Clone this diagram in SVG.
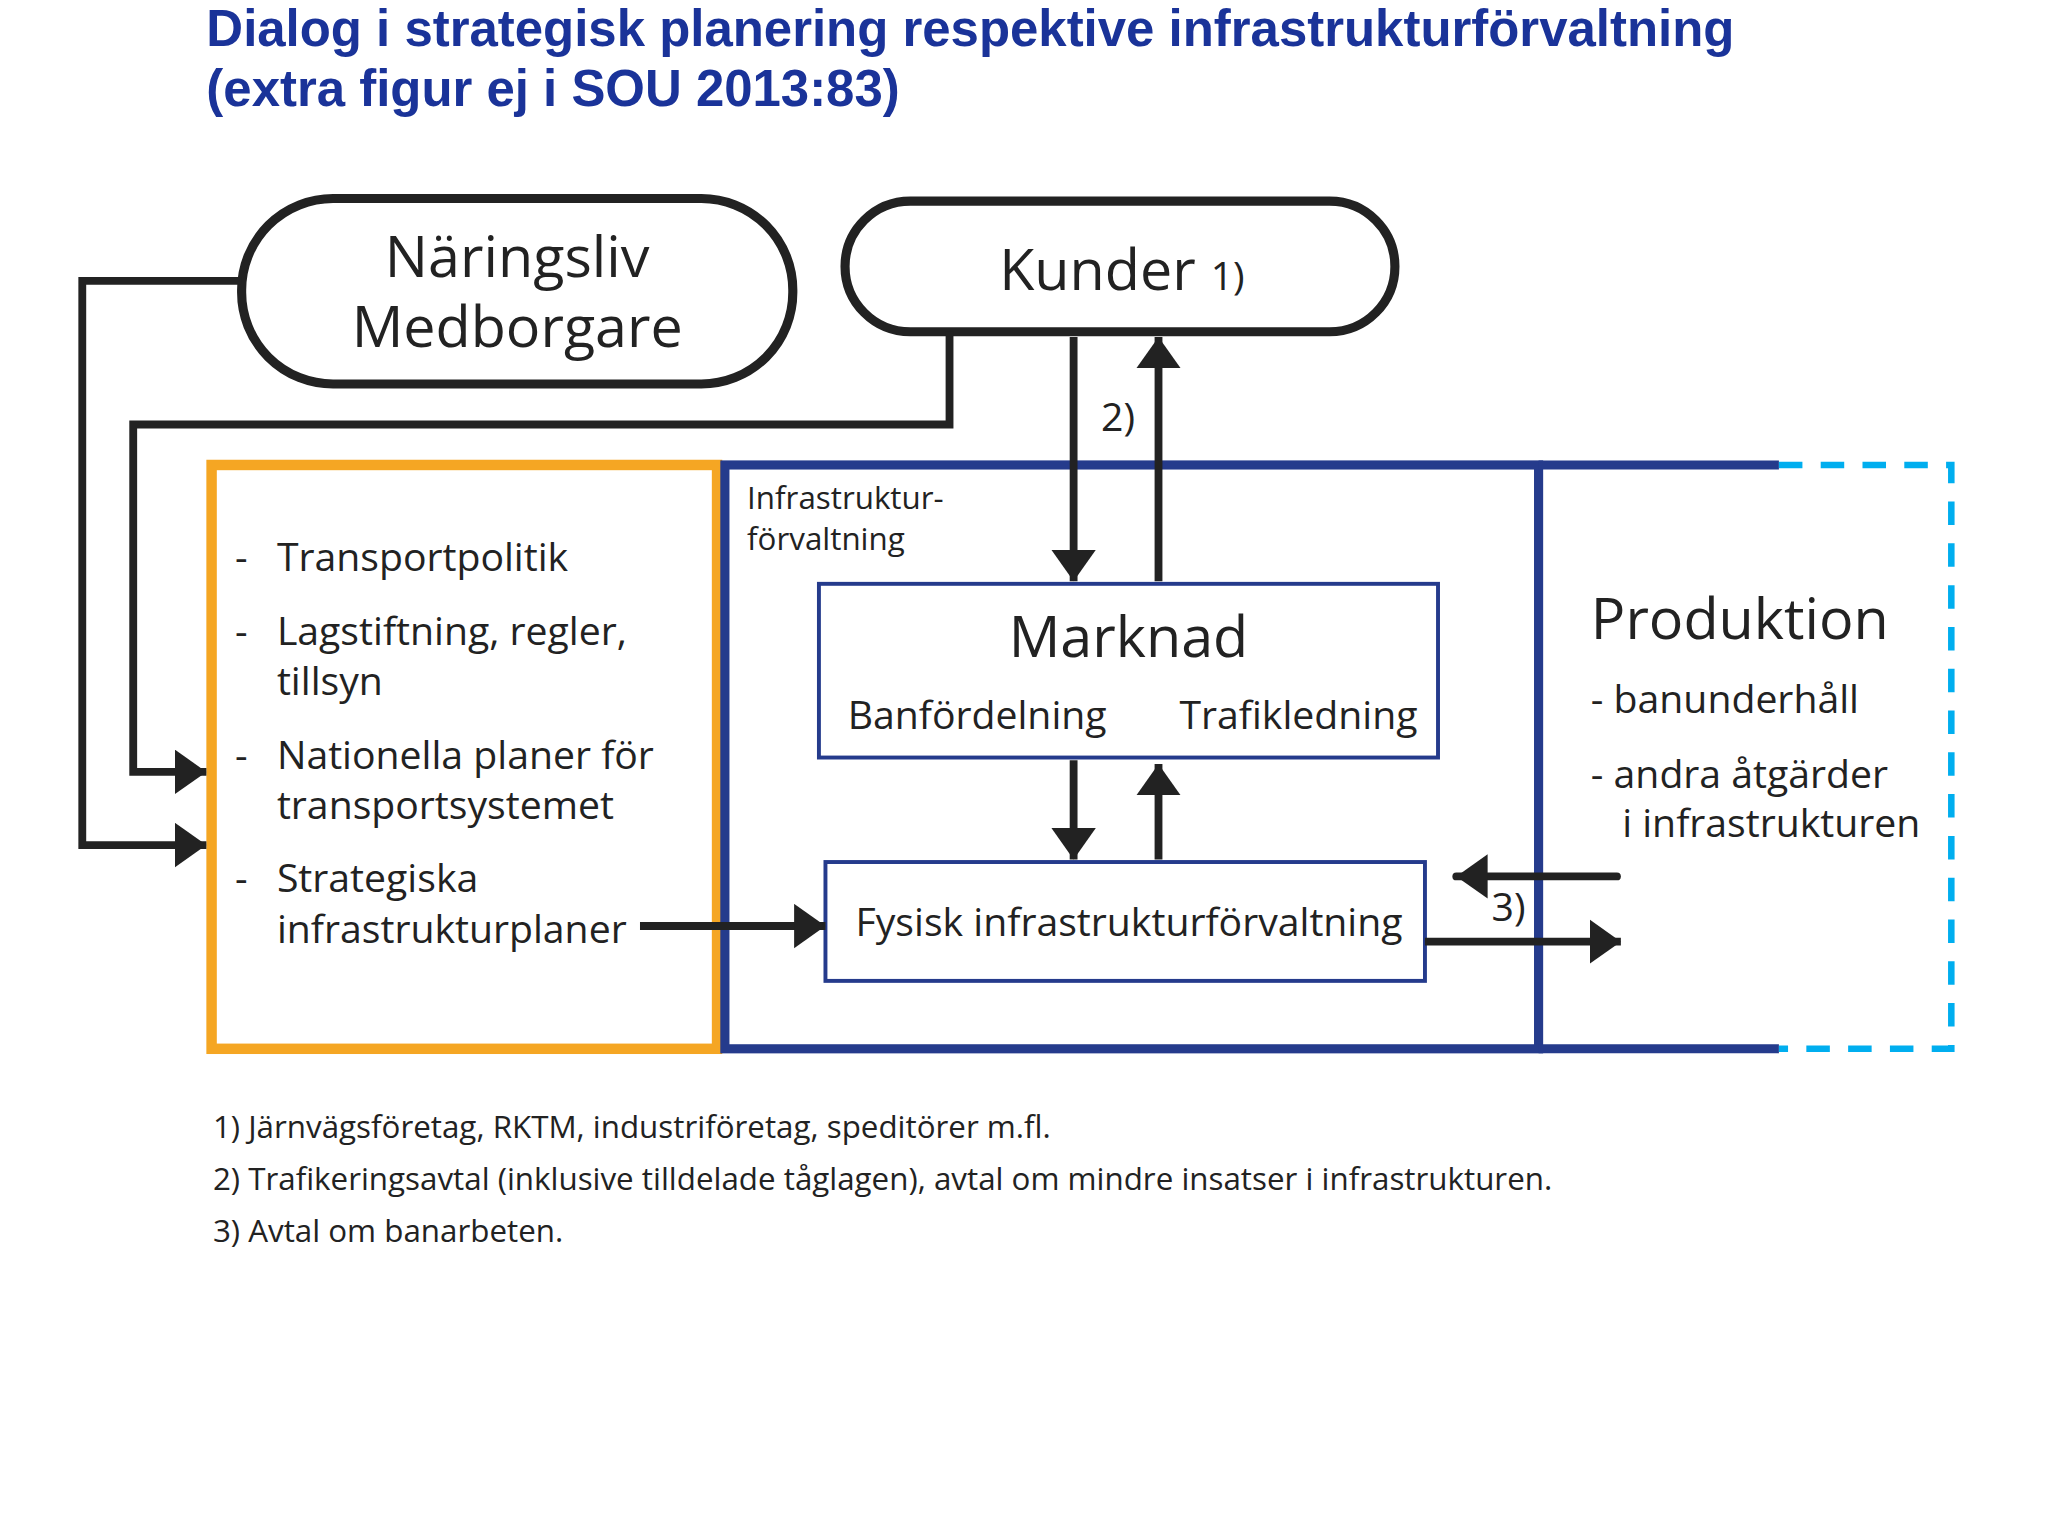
<svg xmlns="http://www.w3.org/2000/svg" width="2048" height="1536" viewBox="0 0 2048 1536">
<style>
.t{font-family:"Open Sans","Liberation Sans",sans-serif;fill:#222}
.title{font-family:"Liberation Sans",Arial,sans-serif;font-weight:bold;font-size:39px;fill:#1a3399}
.big{font-size:44px}.mid{font-size:30px}.sm{font-size:24px}
.conn{fill:none;stroke:#222;stroke-width:6}
</style>
<defs>
<marker id="ah" markerUnits="userSpaceOnUse" markerWidth="26" markerHeight="36" refX="24" refY="17" orient="auto"><path d="M0,0 L24,17 L0,34 z" fill="#222"/></marker>
</defs>
<rect width="2048" height="1536" fill="#fff"/>
<g transform="scale(1.3061)">
<g id="title"><text class="title" x="158" y="35">Dialog i strategisk planering respektive infrastrukturförvaltning</text><text class="title" x="158" y="81">(extra figur ej i SOU 2013:83)</text></g>
<g id="naringsliv"><rect x="185" y="152" width="422" height="142" rx="70" fill="#fff" stroke="#222" stroke-width="7"/><text class="t big" x="396" y="212" text-anchor="middle">Näringsliv</text><text class="t big" x="396" y="266" text-anchor="middle">Medborgare</text></g>
<g id="kunder"><rect x="647" y="154" width="421" height="100" rx="50" fill="#fff" stroke="#222" stroke-width="7"/><text class="t big" x="765" y="222">Kunder <tspan class="mid">1)</tspan></text></g>
<g id="strategisk"><rect x="162" y="356" width="387" height="447" fill="none" stroke="#f5a623" stroke-width="8"/>
<g class="t mid"><text x="180" y="437">-</text><text x="212" y="437">Transportpolitik</text><text x="180" y="494">-</text><text x="212" y="494">Lagstiftning, regler,</text><text x="212" y="532">tillsyn</text><text x="180" y="589">-</text><text x="212" y="589">Nationella planer för</text><text x="212" y="627">transportsystemet</text><text x="180" y="683">-</text><text x="212" y="683">Strategiska</text><text x="212" y="722">infrastrukturplaner</text></g></g>
<g id="infra"><rect x="555" y="356" width="623" height="447" fill="none" stroke="#253b8c" stroke-width="7"/><text class="t sm" x="572" y="390">Infrastruktur-</text><text class="t sm" x="572" y="421">förvaltning</text></g>
<g id="produktion"><path d="M1178,356 H1362 M1178,803 H1362" stroke="#253b8c" stroke-width="7" fill="none"/><path d="M1362,356 H1494 V803 H1362" stroke="#00aeef" stroke-width="5" stroke-dasharray="18,14" fill="none"/>
<text class="t big" x="1218" y="489">Produktion</text><text class="t mid" x="1218" y="546">- banunderhåll</text><text class="t mid" x="1218" y="603">- andra åtgärder</text><text class="t mid" x="1242" y="641">i infrastrukturen</text></g>
<g id="marknad"><rect x="627" y="447" width="474" height="133" fill="#fff" stroke="#253b8c" stroke-width="3"/><text class="t big" x="864" y="503" text-anchor="middle">Marknad</text><text class="t mid" x="649" y="558">Banfördelning</text><text class="t mid" x="903" y="558">Trafikledning</text></g>
<g id="fysisk"><rect x="632" y="660" width="459" height="91" fill="#fff" stroke="#253b8c" stroke-width="3"/><text class="t mid" x="655" y="717">Fysisk infrastrukturförvaltning</text></g>
<g id="connectors">
<path class="conn" d="M185,215 H63 V647 H158" marker-end="url(#ah)"/>
<path class="conn" d="M727,254 V325 H102 V591 H158" marker-end="url(#ah)"/>
<path class="conn" d="M822,258 V445" marker-end="url(#ah)"/>
<path class="conn" d="M887,445 V258" marker-end="url(#ah)"/>
<path class="conn" d="M822,582 V658" marker-end="url(#ah)"/>
<path class="conn" d="M887,658 V585" marker-end="url(#ah)"/>
<path class="conn" d="M490,709 H632" marker-end="url(#ah)"/>
<path class="conn" d="M1238,671 H1115" marker-end="url(#ah)" stroke-linecap="round"/>
<path class="conn" d="M1091,721 H1241" marker-end="url(#ah)"/>
<text class="t mid" x="843" y="330">2)</text>
<text class="t mid" x="1142" y="705">3)</text>
</g>
<g id="notes" class="t sm" fill="#333"><text x="163" y="871">1) Järnvägsföretag, RKTM, industriföretag, speditörer m.fl.</text><text x="163" y="911">2) Trafikeringsavtal (inklusive tilldelade tåglagen), avtal om mindre insatser i infrastrukturen.</text><text x="163" y="951">3) Avtal om banarbeten.</text></g>
</g>
</svg>
